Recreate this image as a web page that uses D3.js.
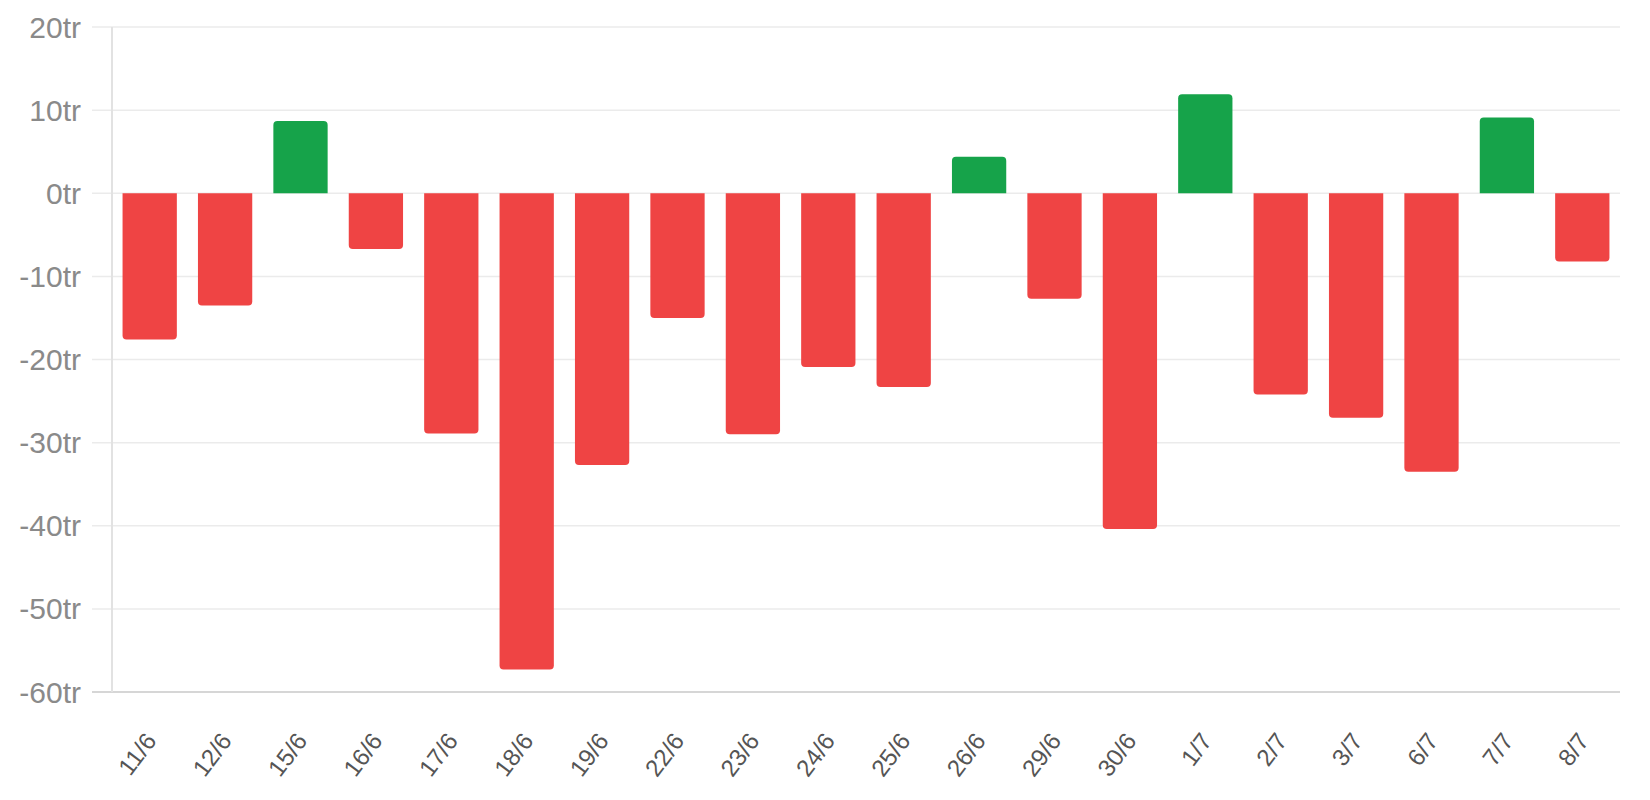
<!DOCTYPE html>
<html>
<head>
<meta charset="utf-8">
<script src="https://cdn.jsdelivr.net/npm/d3@7"></script>
<style>
  html, body { margin: 0; padding: 0; background: #fff; }
  svg { display: block; }
</style>
</head>
<body>
<svg id="chart"></svg>
<script>
const days = ["11/6","12/6","15/6","16/6","17/6","18/6","19/6","22/6","23/6","24/6",
              "25/6","26/6","29/6","30/6","1/7","2/7","3/7","6/7","7/7","8/7"];
const netFlow = [-17.6,-13.5,8.7,-6.7,-28.9,-57.3,-32.7,-15.0,-29.0,-20.9,
                 -23.3,4.4,-12.7,-40.4,11.9,-24.2,-27.0,-33.5,9.1,-8.2];
const yTicks = [20,10,0,-10,-20,-30,-40,-50,-60];

const width = 1650, height = 800;
const margin = {top: 27, right: 30, bottom: 108, left: 112};

const svg = d3.select("#chart").attr("width", width).attr("height", height);

const x = d3.scaleBand()
  .domain(days)
  .range([margin.left, width - margin.right])
  .paddingInner(0.28)
  .paddingOuter(0.14);

const y = d3.scaleLinear()
  .domain([-60, 20])
  .range([height - margin.bottom, margin.top]);

// grid lines + tick marks
svg.append("g")
  .selectAll("line")
  .data(yTicks)
  .join("line")
  .attr("x1", margin.left - 20)
  .attr("x2", width - margin.right)
  .attr("y1", d => y(d))
  .attr("y2", d => y(d))
  .attr("stroke", d => d === -60 ? "#d6d6d6" : "#ebebeb")
  .attr("stroke-width", d => d === -60 ? 2 : 1.5);

// y axis line
svg.append("line")
  .attr("x1", margin.left).attr("x2", margin.left)
  .attr("y1", y(20)).attr("y2", y(-60))
  .attr("stroke", "#e2e2e2")
  .attr("stroke-width", 2);

// y labels
svg.append("g")
  .selectAll("text")
  .data(yTicks)
  .join("text")
  .attr("x", margin.left - 31)
  .attr("y", d => y(d))
  .attr("dy", "0.35em")
  .attr("text-anchor", "end")
  .style("font-family", "'Liberation Sans', Arial, sans-serif")
  .style("font-size", "30px")
  .attr("fill", "#8a8a8a")
  .text(d => d + "tr");

// bars, rounded at the far end only
const r = 4;
const barPath = (d, i) => {
  const x0 = x(days[i]), w = x.bandwidth();
  const y0 = y(0), y1 = y(d);
  if (d >= 0) {
    return `M${x0},${y0}V${y1 + r}Q${x0},${y1} ${x0 + r},${y1}H${x0 + w - r}Q${x0 + w},${y1} ${x0 + w},${y1 + r}V${y0}Z`;
  }
  return `M${x0},${y0}V${y1 - r}Q${x0},${y1} ${x0 + r},${y1}H${x0 + w - r}Q${x0 + w},${y1} ${x0 + w},${y1 - r}V${y0}Z`;
};

svg.append("g")
  .selectAll("path")
  .data(netFlow)
  .join("path")
  .attr("d", barPath)
  .attr("fill", d => d >= 0 ? "#16a34a" : "#ef4444");

// x labels, rotated
svg.append("g")
  .selectAll("text")
  .data(days)
  .join("text")
  .attr("transform", d => `translate(${x(d) + x.bandwidth() / 2 + 1},${y(-60) + 44}) rotate(-53)`)
  .attr("text-anchor", "end")
  .attr("dy", "0.35em")
  .style("font-family", "'Liberation Sans', Arial, sans-serif")
  .style("font-size", "24px")
  .attr("fill", "#555")
  .text(d => d);
</script>
</body>
</html>
